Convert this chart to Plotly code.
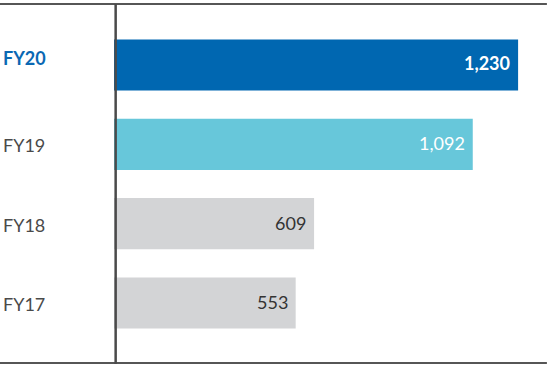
import plotly.graph_objects as go

categories = ["FY17", "FY18", "FY19", "FY20"]
values = [553, 609, 1092, 1230]
value_labels = ["553", "609", "1,092", "1,230"]
bar_colors = ["#d3d4d6", "#d3d4d6", "#67c7da", "#0067b1"]
label_colors = ["#4a4a4a", "#4a4a4a", "#4a4a4a", "#0a68b3"]
label_bold = [False, False, False, True]
value_colors = ["#333333", "#333333", "#ffffff", "#ffffff"]
value_bold = [False, False, False, True]

FONT = "Lato, Open Sans, sans-serif"

fig = go.Figure()
fig.add_trace(go.Bar(
    y=categories, x=values, orientation="h",
    marker=dict(color=bar_colors, line=dict(width=0)),
    width=0.645, hoverinfo="skip",
))

annotations = []
for cat, v, lab, vc, vb, lc, lb in zip(categories, values, value_labels,
                                         value_colors, value_bold, label_colors, label_bold):
    annotations.append(dict(
        x=v, y=cat, xref="x", yref="y", text=f"<b>{lab}</b>" if vb else lab,
        showarrow=False, xanchor="right", xshift=-6, yshift=2 if vb else 1,
        font=dict(family=FONT, size=18, color=vc),
    ))
    annotations.append(dict(
        x=0, y=cat, xref="paper", yref="y", text=f"<b>{cat}</b>" if lb else cat,
        showarrow=False, xanchor="left", xshift=1, yshift=7 if lb else -1,
        font=dict(family=FONT, size=18, color=lc),
    ))

shapes = [
    dict(type="line", xref="paper", yref="paper", x0=0, x1=0.998, y0=1, y1=1,
         line=dict(color="#1e1e1e", width=1.5), layer="above"),
    dict(type="line", xref="paper", yref="paper", x0=0, x1=0.998, y0=0, y1=0,
         line=dict(color="#1e1e1e", width=1.5), layer="above"),
    dict(type="line", xref="x", yref="paper", x0=5, x1=5, y0=-0.003, y1=1,
         line=dict(color="#4a4a4a", width=2.5), layer="above"),
]

fig.update_layout(
    width=548, height=369,
    margin=dict(l=0, r=0, t=4, b=6),
    paper_bgcolor="white", plot_bgcolor="white",
    showlegend=False,
    xaxis=dict(range=[-347, 1321], visible=False, fixedrange=True),
    yaxis=dict(type="category", categoryorder="array", categoryarray=categories,
               range=[-0.756, 3.769], visible=False, fixedrange=True),
    annotations=annotations,
    shapes=shapes,
)

fig.write_html("out.html", config={"displayModeBar": False},
               post_script="document.body.style.margin='0';document.body.style.overflow='hidden';")
